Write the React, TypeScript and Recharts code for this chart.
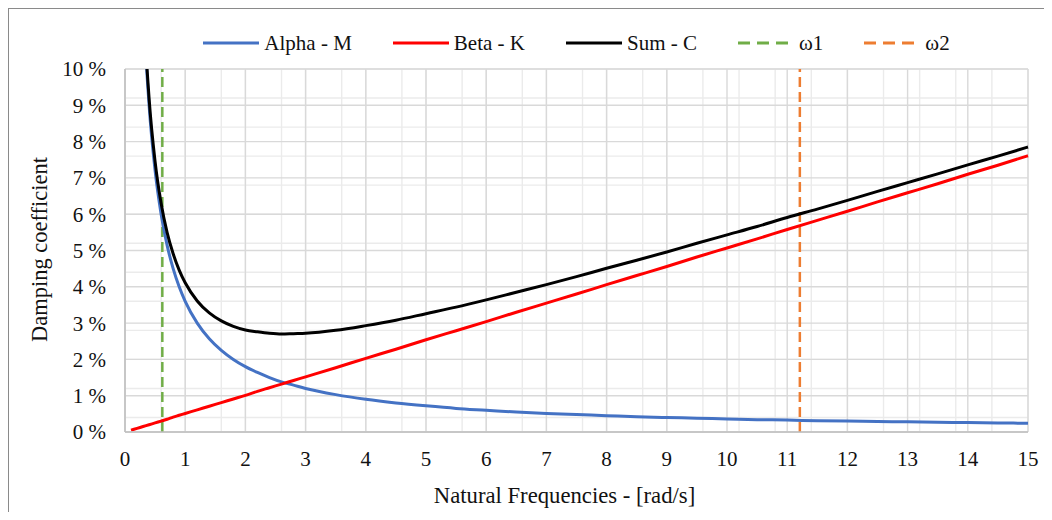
import React from "react";
import { LineChart, Line, XAxis, YAxis, CartesianGrid, ReferenceLine, Label } from "recharts";

const freq = [0.1, 0.2, 0.3, 0.4, 0.5, 0.6, 0.7, 0.8, 0.9, 1.0, 1.2, 1.4, 1.6, 1.8, 2.0, 2.2, 2.4, 2.6, 2.8, 3.0, 3.5, 4.0, 4.5, 5.0, 5.5, 6.0, 6.5, 7.0, 7.5, 8.0, 8.5, 9.0, 9.5, 10.0, 10.5, 11.0, 11.5, 12.0, 12.5, 13.0, 13.5, 14.0, 14.5, 15.0];
const alphaM = [36.0, 18.0, 12.0, 9.0, 7.2, 6.0, 5.14, 4.5, 4.0, 3.6, 3.0, 2.57, 2.25, 2.0, 1.8, 1.64, 1.5, 1.38, 1.29, 1.2, 1.03, 0.9, 0.8, 0.72, 0.65, 0.6, 0.55, 0.51, 0.48, 0.45, 0.42, 0.4, 0.38, 0.36, 0.34, 0.33, 0.31, 0.3, 0.29, 0.28, 0.27, 0.26, 0.25, 0.24];
const betaK = [0.05, 0.1, 0.15, 0.2, 0.25, 0.3, 0.35, 0.41, 0.46, 0.51, 0.61, 0.71, 0.81, 0.91, 1.01, 1.12, 1.22, 1.32, 1.42, 1.52, 1.77, 2.03, 2.28, 2.54, 2.79, 3.04, 3.3, 3.55, 3.8, 4.06, 4.31, 4.56, 4.82, 5.07, 5.32, 5.58, 5.83, 6.08, 6.34, 6.59, 6.84, 7.1, 7.35, 7.61];
const sumC = [36.05, 18.1, 12.15, 9.2, 7.45, 6.3, 5.49, 4.91, 4.46, 4.11, 3.61, 3.28, 3.06, 2.91, 2.81, 2.76, 2.72, 2.7, 2.71, 2.72, 2.8, 2.93, 3.08, 3.26, 3.44, 3.64, 3.85, 4.06, 4.28, 4.51, 4.73, 4.96, 5.2, 5.43, 5.66, 5.91, 6.14, 6.38, 6.63, 6.87, 7.11, 7.36, 7.6, 7.85];

const omega1 = 0.62;
const omega2 = 11.21;

const xTicks = [0, 1, 2, 3, 4, 5, 6, 7, 8, 9, 10, 11, 12, 13, 14, 15];
const yTicks = [0, 1, 2, 3, 4, 5, 6, 7, 8, 9, 10];
const xMinor = Array.from({ length: 76 }, (_, i) => Math.round(i * 2) / 10);
const yMinor = Array.from({ length: 51 }, (_, i) => Math.round(i * 2) / 10);

const data = freq.map((w, i) => ({ w, alpha: alphaM[i], beta: betaK[i], sum: sumC[i] }));

const FONT = "'Liberation Serif', 'Times New Roman', Times, 'DejaVu Serif', serif";
const TEXT = "#111";

const legendItems = [
  { name: "Alpha - M", color: "#4472C4", dashed: false },
  { name: "Beta - K", color: "#FF0000", dashed: false },
  { name: "Sum - C", color: "#000000", dashed: false },
  { name: "ω1", color: "#70AD47", dashed: true },
  { name: "ω2", color: "#ED7D31", dashed: true },
];

const YTitle = (props: any) => {
  const vb = props.viewBox;
  const x = vb.x + 38;
  const y = vb.y + vb.height / 2 - 1;
  return (
    <text x={x} y={y} transform={`rotate(-90, ${x}, ${y})`} textAnchor="middle" style={{ fontFamily: FONT }} fontSize={22.5} fill={TEXT}>
      Damping coefficient
    </text>
  );
};

const XTitle = (props: any) => {
  const vb = props.viewBox;
  const x = vb.x + vb.width / 2 - 12;
  const y = vb.y + 71;
  return (
    <text x={x} y={y} textAnchor="middle" style={{ fontFamily: FONT }} fontSize={22.7} fill={TEXT}>
      Natural Frequencies - [rad/s]
    </text>
  );
};

export default function App() {
  return (
    <div
      style={{
        position: "relative",
        width: 1035,
        height: 503,
        borderTop: "1px solid #8a8a8a",
        borderLeft: "1px solid #8a8a8a",
        background: "#fff",
        overflow: "hidden",
        fontFamily: FONT,
      }}
    >
      <div
        style={{
          position: "absolute",
          left: 116,
          width: 903,
          top: 22,
          height: 24,
          display: "flex",
          justifyContent: "center",
          alignItems: "center",
          fontFamily: FONT,
          fontSize: 21,
          color: TEXT,
          lineHeight: "24px",
          whiteSpace: "nowrap",
        }}
      >
        {legendItems.map((it, i) => (
          <div key={it.name} style={{ display: "flex", alignItems: "center", marginLeft: i === 0 ? 0 : 41 }}>
            <svg width={56} height={6} style={{ marginRight: 5 }}>
              <line
                x1={0}
                y1={3}
                x2={56}
                y2={3}
                stroke={it.color}
                strokeWidth={3}
                strokeDasharray={it.dashed ? "12 7" : undefined}
              />
            </svg>
            <span>{it.name}</span>
          </div>
        ))}
      </div>
      <LineChart width={1035} height={503} data={data} margin={{ top: 60, right: 16, bottom: 0, left: 0 }} style={{ fontFamily: FONT }}>
        <XAxis xAxisId="minor" dataKey="w" type="number" domain={[0, 15]} ticks={xMinor} hide />
        <YAxis yAxisId="minor" type="number" domain={[0, 10]} ticks={yMinor} hide allowDataOverflow />
        <CartesianGrid xAxisId="minor" yAxisId="minor" stroke="#ebebeb" strokeWidth={1.4} />
        <XAxis
          dataKey="w"
          type="number"
          domain={[0, 15]}
          ticks={xTicks}
          interval={0}
          height={80}
          tickSize={0}
          tickMargin={19}
          axisLine={{ stroke: "#bfbfbf", strokeWidth: 1.5 }}
          tick={{ fontFamily: FONT, fontSize: 21, fill: TEXT }}
        >
          <Label content={XTitle} />
        </XAxis>
        <YAxis
          type="number"
          domain={[0, 10]}
          ticks={yTicks}
          interval={0}
          width={116}
          allowDataOverflow
          tickSize={0}
          tickMargin={19}
          tickFormatter={(v: number) => `${v} %`}
          axisLine={{ stroke: "#bfbfbf", strokeWidth: 1.5 }}
          tick={{ fontFamily: FONT, fontSize: 21, fill: TEXT }}
        >
          <Label content={YTitle} />
        </YAxis>
        <CartesianGrid stroke="#d9d9d9" strokeWidth={1.4} />
        <ReferenceLine x={omega1} stroke="#70AD47" strokeWidth={2.5} strokeDasharray="10 5" />
        <ReferenceLine x={omega2} stroke="#ED7D31" strokeWidth={2.5} strokeDasharray="10 5" />
        <Line type="monotone" dataKey="alpha" stroke="#4472C4" strokeWidth={3} dot={false} isAnimationActive={false} />
        <Line type="monotone" dataKey="beta" stroke="#FF0000" strokeWidth={3} dot={false} isAnimationActive={false} />
        <Line type="monotone" dataKey="sum" stroke="#000000" strokeWidth={3} dot={false} isAnimationActive={false} />
      </LineChart>
    </div>
  );
}
